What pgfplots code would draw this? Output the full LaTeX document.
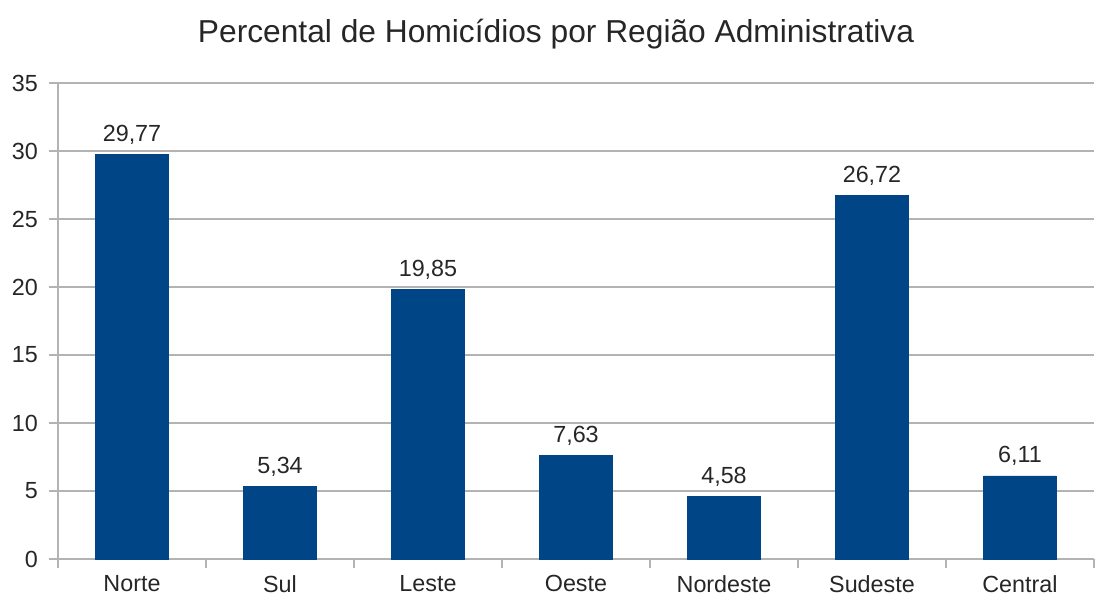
\documentclass[border=0pt]{standalone}
\usepackage{pgfplots}
\pgfplotsset{compat=1.18}
\usepackage{fontspec}
\setmainfont{Liberation Sans}
\definecolor{barblue}{HTML}{004586}
\definecolor{gridgray}{HTML}{B3B3B3}
\begin{document}
\begin{tikzpicture}
\begin{axis}[
  scale only axis,
  width=777pt, height=357pt,
  xmin=-0.5, xmax=6.5,
  ymin=0, ymax=35,
  ytick={0,5,...,35},
  xtick={-0.5,0.5,...,6.5},
  xticklabels={},
  extra x ticks={0,1,2,3,4,5,6},
  extra x tick labels={Norte,Sul,Leste,Oeste,Nordeste,Sudeste,Central},
  extra x tick style={major tick length=0pt, tick label style={yshift=-9pt}},
  tick align=outside,
  major tick length=6.5pt,
  ytick style={draw=gridgray, line width=0.8pt},
  xtick style={draw=gridgray, line width=0.8pt},
  ymajorgrids,
  grid style={draw=gridgray, line width=0.8pt},
  axis x line*=bottom,
  axis y line*=left,
  axis line style={draw=gridgray, line width=0.8pt},
  every axis x line/.append style={-},
  every axis y line/.append style={-},
  /pgf/number format/assume math mode=true,
  tick label style={font=\fontsize{17.5}{20}\selectfont, text=black!85},
  yticklabel style={xshift=-5pt},
  title={Percental de Homicídios por Região Administrativa},
  title style={font=\fontsize{23.8}{27}\selectfont, text=black!85, yshift=16pt, xshift=-15pt},
  ybar, bar width=54.75pt,
  point meta=explicit symbolic,
  nodes near coords,
  nodes near coords style={font=\fontsize{17.5}{20}\selectfont, text=black!85, yshift=4pt},
  clip=false,
]
\addplot[fill=barblue, draw=barblue] coordinates {
  (0,29.77) [29,77]
  (1,5.34) [5,34]
  (2,19.85) [19,85]
  (3,7.63) [7,63]
  (4,4.58) [4,58]
  (5,26.72) [26,72]
  (6,6.11) [6,11]
};
\coordinate (sw) at (rel axis cs:0,0);
\end{axis}
\pgfresetboundingbox
\path[use as bounding box] (sw) ++(-43.5pt,-34.5pt) rectangle ++(822pt,453.75pt);
\end{tikzpicture}
\end{document}
